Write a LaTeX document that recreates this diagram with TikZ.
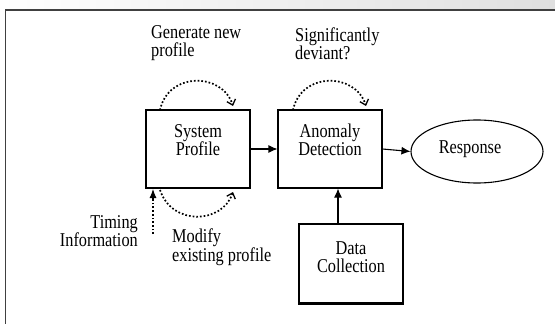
\documentclass[tikz,border=0pt]{standalone}
\usepackage{graphicx}
\usepackage{fontspec}
\setmainfont{Liberation Serif}
\usetikzlibrary{arrows.meta,shapes.geometric}
\newcommand{\vs}[1]{\scalebox{1}[1.2]{#1}}
\begin{document}
\begin{tikzpicture}[x=1pt,y=-1pt,
  every node/.style={font=\fontsize{16.3}{18.5}\selectfont},
  boxn/.style={draw,line width=1.1pt,minimum width=104pt,minimum height=78pt,inner sep=0pt},
  txt/.style={align=center,inner sep=0pt},
  solidarr/.style={line width=1.1pt,-{Latex[length=9pt,width=8pt]}},
  dotarr/.style={line width=1.7pt,dotted,-{Straight Barb[length=5pt,width=9pt,line width=1.3pt]}}]
\useasboundingbox (0,0) rectangle (555,324);
\shade[left color=white,right color=gray!25] (0,0) rectangle (555,9.5);
\draw[line width=1.4pt,black!75] (5.5,324) -- (5.5,10) -- (555,10);
% boxes
\node[boxn] (sp) at (198,149) {};
\node[boxn] (ad) at (330,149) {};
\node[boxn,minimum height=79pt] (dc) at (351,263.5) {};
\draw[line width=2.2pt] (dc.south west) -- (dc.south east);
\node[draw,ellipse,line width=1.1pt,minimum width=132pt,minimum height=63pt,inner sep=0pt] (resp) at (477,151.5) {};
% texts
\node[txt] (spt) at (198,140) {\vs{System}\\\vs{Profile}};
\node[txt] (adt) at (330,140) {\vs{Anomaly}\\\vs{Detection}};
\node[txt] (dct) at (351,257) {\vs{Data}\\\vs{Collection}};
\node[txt] (respt) at (470,149) {\vs{Response}};
\node[txt,align=left,anchor=west] (gen) at (151,43) {\vs{Generate new}\\\vs{profile}};
\node[txt,align=left,anchor=west] (sig) at (295,44) {\vs{Significantly}\\\vs{deviant?}};
\node[txt,align=right,anchor=east] (tim) at (138,231) {\vs{Timing}\\\vs{Information}};
\node[txt,align=left,anchor=west] (mod) at (172,247) {\vs{Modify}\\\vs{existing profile}};
% solid connectors
\draw[solidarr] (sp.east) -- (ad.west);
\draw[solidarr] (ad.east) -- (resp.west);
\coordinate (dcup) at (338,224);
\draw[solidarr] (dcup) -- (dcup |- ad.south);
% dotted loops
\coordinate (sptl) at (160,110);
\coordinate (sptr) at (233,106);
\coordinate (adtl) at (293,110);
\coordinate (adtr) at (366,106);
\coordinate (spbl) at (160,190);
\coordinate (spbr) at (233,192);
\coordinate (timb) at (153,234);
\coordinate (timt) at (153,189);
\draw[dotarr] (sptl) .. controls (168,72) and (222,72) .. (sptr);
\draw[dotarr] (adtl) .. controls (301,72) and (355,72) .. (adtr);
\draw[dotarr] (spbl) .. controls (172,226) and (222,224) .. (spbr);
\draw[line width=1.7pt,dotted] (timb) -- (153,198);
\draw[-{Latex[length=9pt,width=7pt]},line width=1.1pt] (153,199) -- (timt);
\end{tikzpicture}
\end{document}
